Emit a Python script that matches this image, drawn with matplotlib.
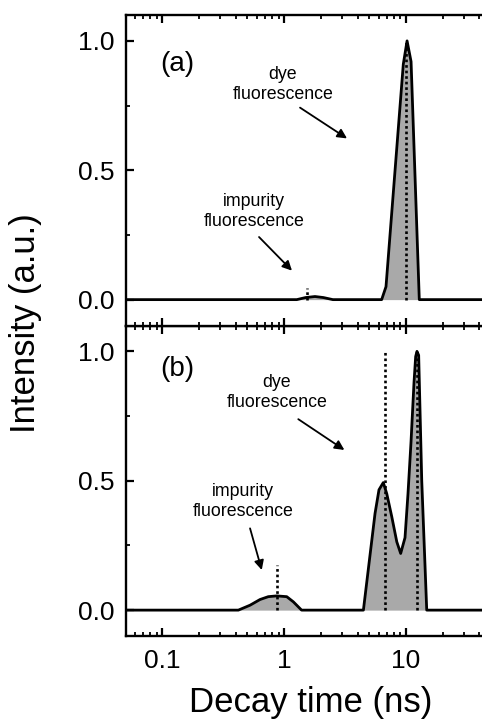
import matplotlib
matplotlib.use("Agg")
import matplotlib.pyplot as plt
from matplotlib.ticker import LogLocator, MultipleLocator, NullFormatter, FixedLocator, FixedFormatter

# panel (a) distribution
xa = [0.05, 1.27, 1.5, 1.79, 2.1, 2.51, 6.31, 6.85, 9.5, 10.2, 11.0, 12.85, 50]
ya = [0, 0, 0.008, 0.012, 0.008, 0, 0, 0.05, 0.91, 1.0, 0.92, 0, 0]
# dotted markers (a): position, height
dota_x = [10.0, 1.54]
dota_h = [1.0, 0.045]

# panel (b) distribution
xb = [0.05, 0.421, 0.525, 0.634, 0.741, 0.869, 1.05, 1.19, 1.39, 4.47, 5.57, 6.0, 6.51,
      6.95, 7.64, 8.4, 9.04, 9.81, 10.38, 10.99, 11.63, 12.0, 12.3, 12.7, 13.46, 14.79, 50]
yb = [0, 0, 0.019, 0.041, 0.052, 0.055, 0.052, 0.032, 0, 0, 0.374, 0.465, 0.493,
      0.45, 0.361, 0.264, 0.219, 0.28, 0.45, 0.65, 0.88, 0.98, 1.0, 0.985, 0.5, 0, 0]
dotb_x = [6.73, 12.4, 0.869]
dotb_h = [1.0, 1.0, 0.174]

xticks = [0.1, 1, 10]
xticklabels = ["0.1", "1", "10"]
yticks = [0.0, 0.5, 1.0]
yticklabels = ["0.0", "0.5", "1.0"]

plt.rcParams.update({
    "font.family": ["Liberation Sans", "DejaVu Sans"],
    "axes.linewidth": 1.7,
    "xtick.major.width": 1.6,
    "ytick.major.width": 1.6,
    "xtick.minor.width": 1.3,
    "ytick.minor.width": 1.3,
    "xtick.major.size": 5.8,
    "ytick.major.size": 5.8,
    "xtick.minor.size": 3.0,
    "ytick.minor.size": 3.0,
    "xtick.direction": "in",
    "ytick.direction": "in",
    "xtick.labelsize": 19,
    "ytick.labelsize": 19,
})

fig = plt.figure(figsize=(4.82, 7.19), dpi=100)
left = 125.6 / 482
width = (491.2 - 125.6) / 482
h = 310.5 / 719
bot = 1 - 636 / 719
axb = fig.add_axes([left, bot, width, h])
axa = fig.add_axes([left, bot + h, width, h], sharex=axb)

def panel(ax, x, y, dx, dh, label, lab_y):
    ax.fill_between(x, 0, y, color="#a9a9a9", lw=0)
    ax.plot(x, y, color="k", lw=2.0, solid_joinstyle="round")
    for px, ph in zip(dx, dh):
        ax.plot([px, px], [0, ph], color="k", lw=1.9, ls=(0, (1, 1.1)))
    ax.set_xscale("log")
    ax.set_xlim(0.05, 50)
    ax.set_ylim(-0.1, 1.1)
    ax.xaxis.set_major_locator(FixedLocator(xticks))
    ax.xaxis.set_minor_locator(LogLocator(base=10, subs=range(2, 10)))
    ax.xaxis.set_minor_formatter(NullFormatter())
    ax.yaxis.set_major_locator(FixedLocator(yticks))
    ax.yaxis.set_major_formatter(FixedFormatter(yticklabels))
    ax.yaxis.set_minor_locator(MultipleLocator(0.25))
    ax.tick_params(axis="x", which="both", top=True, bottom=True, pad=9)
    ax.tick_params(axis="y", which="both", left=True, right=True, pad=8)
    ax.text(0.133, lab_y, label, fontsize=20, ha="center", va="center")

def arrow(ax, start, end):
    ax.annotate("", xy=end, xytext=start,
                arrowprops=dict(arrowstyle="-|>", color="k", lw=1.3,
                                mutation_scale=14, shrinkA=0, shrinkB=0))

panel(axa, xa, ya, dota_x, dota_h, "(a)", 0.91)
panel(axb, xb, yb, dotb_x, dotb_h, "(b)", 0.93)

axa.tick_params(axis="x", labelbottom=False)
axb.xaxis.set_major_formatter(FixedFormatter(xticklabels))

# annotations (a)
axa.text(0.978, 0.83, "dye\nfluorescence", fontsize=12.8, ha="center", va="center",
         linespacing=1.25)
arrow(axa, (1.35, 0.742), (3.28, 0.623))
axa.text(0.566, 0.342, "impurity\nfluorescence", fontsize=12.8, ha="center", va="center",
         linespacing=1.25)
arrow(axa, (0.622, 0.242), (1.159, 0.112))

# annotations (b)
axb.text(0.869, 0.84, "dye\nfluorescence", fontsize=12.8, ha="center", va="center",
         linespacing=1.25)
arrow(axb, (1.306, 0.738), (3.12, 0.619))
axb.text(0.462, 0.419, "impurity\nfluorescence", fontsize=12.8, ha="center", va="center",
         linespacing=1.25)
arrow(axb, (0.525, 0.316), (0.655, 0.155))

fig.text(0.644, 0.0236, "Decay time (ns)", fontsize=25, ha="center", va="center")
fig.text(0.052, 0.551, "Intensity (a.u.)", fontsize=25, ha="center", va="center",
         rotation=90)

fig.savefig("out.png", dpi=100)
